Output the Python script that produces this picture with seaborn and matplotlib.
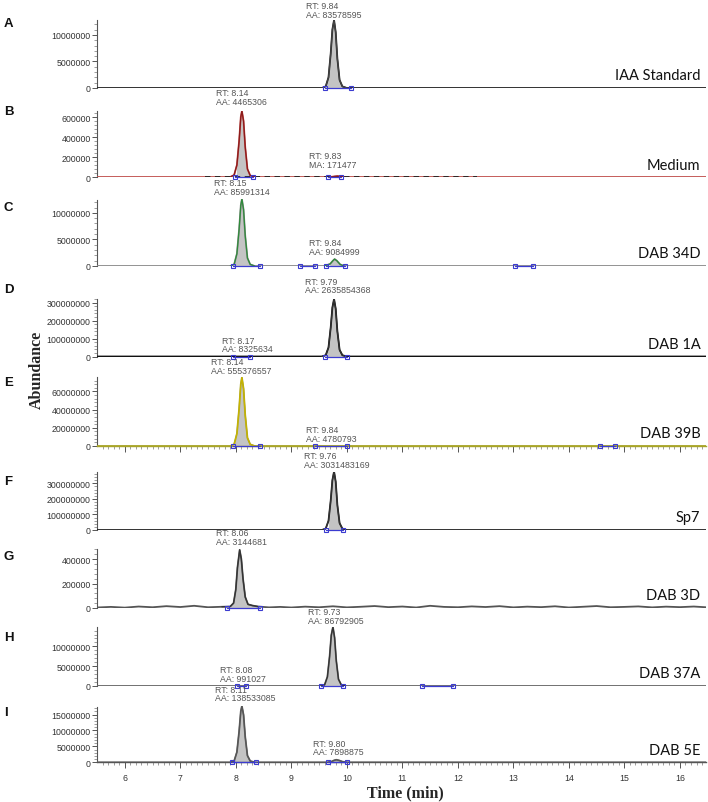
import matplotlib
matplotlib.use("Agg")
import matplotlib.pyplot as plt
import numpy as np
import seaborn as sns

sns.set_theme(style="white")
plt.rcParams["font.family"] = ["Liberation Sans", "DejaVu Sans"]

# ---- data (time in min, abundance in counts) ----
letters = ["A", "B", "C", "D", "E", "F", "G", "H", "I"]
samples = ["IAA Standard", "Medium", "DAB 34D", "DAB 1A", "DAB 39B",
           "Sp7", "DAB 3D", "DAB 37A", "DAB 5E"]

A_t = [5.5, 9.55, 9.62, 9.67, 9.71, 9.74, 9.77, 9.80, 9.83, 9.87, 9.92, 10.0, 16.47]
A_v = [0, 0, 3e5, 2.0e6, 6.5e6, 11.0e6, 12.8e6, 10.5e6, 5.5e6, 1.5e6, 3e5, 0, 0]

B_t = [5.5, 7.9, 7.97, 8.02, 8.06, 8.09, 8.11, 8.14, 8.17, 8.21, 8.26, 8.34,
       9.7, 9.78, 9.83, 9.88, 9.95, 16.47]
B_v = [0, 0, 2e4, 1.2e5, 3.6e5, 6.0e5, 6.6e5, 5.6e5, 3.0e5, 8e4, 1.5e4, 0,
       0, 6e3, 9e3, 6e3, 0, 0]
B_noise_t = [7.45, 12.35]
B_noise_v = [4e3, 4e3]

C_t = [5.5, 7.9, 7.97, 8.02, 8.06, 8.09, 8.11, 8.14, 8.17, 8.21, 8.26, 8.34,
       9.6, 9.7, 9.75, 9.78, 9.82, 9.88, 9.95, 16.47]
C_v = [0, 0, 3e5, 2.3e6, 6.9e6, 11.4e6, 12.6e6, 10.6e6, 5.7e6, 1.5e6, 3e5, 0,
       0, 4e5, 1.0e6, 1.3e6, 1.0e6, 3e5, 0, 0]

D_t = [5.5, 9.55, 9.62, 9.67, 9.71, 9.74, 9.77, 9.80, 9.83, 9.87, 9.92, 10.0, 16.47]
D_v = [0, 0, 7e6, 5.0e7, 1.62e8, 2.72e8, 3.2e8, 2.65e8, 1.4e8, 3.7e7, 7e6, 0, 0]

E_t = [5.5, 7.9, 7.97, 8.02, 8.06, 8.09, 8.11, 8.14, 8.17, 8.21, 8.26, 8.34, 16.47]
E_v = [0, 0, 1.8e6, 1.35e7, 4.1e7, 6.8e7, 7.54e7, 6.3e7, 3.4e7, 9e6, 1.8e6, 0, 0]

F_t = [5.5, 9.55, 9.62, 9.67, 9.71, 9.74, 9.77, 9.80, 9.83, 9.87, 9.92, 10.0, 16.47]
F_v = [0, 0, 9e6, 5.9e7, 1.9e8, 3.2e8, 3.76e8, 3.1e8, 1.6e8, 4.4e7, 9e6, 0, 0]

G_t = [5.5, 5.75, 6.0, 6.25, 6.5, 6.75, 7.0, 7.25, 7.5, 7.75,
       7.9, 7.96, 8.0, 8.03, 8.07, 8.1, 8.13, 8.17, 8.22, 8.3,
       8.4, 8.6, 8.8, 9.0, 9.25, 9.5, 9.75, 10.0, 10.25, 10.5,
       10.75, 11.0, 11.25, 11.5, 11.75, 12.0, 12.25, 12.5, 12.75, 13.0,
       13.25, 13.5, 13.75, 14.0, 14.25, 14.5, 14.75, 15.0, 15.25, 15.5,
       15.75, 16.0, 16.25, 16.47]
G_v = [4e3, 9e3, 3e3, 12e3, 6e3, 15e3, 8e3, 18e3, 6e3, 10e3,
       12e3, 40e3, 150e3, 330e3, 475e3, 400e3, 240e3, 90e3, 30e3, 20e3,
       12e3, 5e3, 9e3, 4e3, 11e3, 6e3, 14e3, 5e3, 10e3, 16e3,
       7e3, 12e3, 4e3, 18e3, 9e3, 6e3, 13e3, 8e3, 15e3, 5e3,
       11e3, 7e3, 14e3, 4e3, 10e3, 16e3, 6e3, 9e3, 13e3, 5e3,
       11e3, 7e3, 12e3, 6e3]

H_t = [5.5, 9.53, 9.6, 9.65, 9.69, 9.72, 9.75, 9.78, 9.81, 9.85, 9.9, 9.98, 16.47]
H_v = [0, 0, 3e5, 2.3e6, 7.5e6, 12.8e6, 14.9e6, 12.2e6, 6.4e6, 1.7e6, 3e5, 0, 0]

I_t = [5.5, 7.9, 7.97, 8.02, 8.06, 8.09, 8.11, 8.14, 8.17, 8.21, 8.26, 8.34,
       9.66, 9.72, 9.77, 9.81, 9.86, 9.92, 10.0, 16.47]
I_v = [0, 0, 4e5, 3.2e6, 9.7e6, 16.0e6, 17.7e6, 14.9e6, 8.0e6, 2.1e6, 4e5, 0,
       0, 2e5, 6e5, 8e5, 6e5, 2e5, 0, 0]

traces_t = [A_t, B_t, C_t, D_t, E_t, F_t, G_t, H_t, I_t]
traces_v = [A_v, B_v, C_v, D_v, E_v, F_v, G_v, H_v, I_v]

# integration windows (blue markers)
windows = [
    [(9.6, 10.08)],
    [(7.98, 8.31), (9.66, 9.9)],
    [(7.95, 8.43), (9.15, 9.42), (9.63, 9.96), (13.03, 13.35)],
    [(7.95, 8.26), (9.6, 10.0)],
    [(7.95, 8.43), (9.42, 10.0), (14.56, 14.83)],
    [(9.63, 9.93)],
    [(7.85, 8.43)],
    [(8.02, 8.19), (9.54, 9.93), (11.35, 11.92)],
    [(7.93, 8.37), (9.66, 10.0)],
]

# peak labels: (RT, AA label, left x of text, px above baseline)
peak_labels = [
    [("RT: 9.84", "AA: 83578595", 9.26, 69)],
    [("RT: 8.14", "AA: 4465306", 7.65, 71), ("RT: 9.83", "MA: 171477", 9.32, 8)],
    [("RT: 8.15", "AA: 85991314", 7.6, 70), ("RT: 9.84", "AA: 9084999", 9.32, 10)],
    [("RT: 9.79", "AA: 2635854368", 9.25, 62), ("RT: 8.17", "AA: 8325634", 7.76, 3)],
    [("RT: 8.14", "AA: 555376557", 7.55, 71), ("RT: 9.84", "AA: 4780793", 9.27, 3)],
    [("RT: 9.76", "AA: 3031483169", 9.22, 61)],
    [("RT: 8.06", "AA: 3144681", 7.65, 62)],
    [("RT: 9.73", "AA: 86792905", 9.3, 61), ("RT: 8.08", "AA: 991027", 7.71, 3)],
    [("RT: 8.11", "AA: 138533085", 7.62, 60), ("RT: 9.80", "AA: 7898875", 9.39, 6)],
]

yticks = [
    [0, 5e6, 1e7], [0, 2e5, 4e5, 6e5], [0, 5e6, 1e7], [0, 1e8, 2e8, 3e8],
    [0, 2e7, 4e7, 6e7], [0, 1e8, 2e8, 3e8], [0, 2e5, 4e5], [0, 5e6, 1e7],
    [0, 5e6, 1e7, 1.5e7],
]
# top of the drawn y axis and minor tick step
ytop = [12.76e6, 6.6e5, 12.5e6, 3.2e8, 7.59e7, 3.76e8, 4.82e5, 14.9e6, 17.4e6]
yminor = [1e6, 4e4, 1e6, 2e7, 4e6, 2e7, 4e4, 1e6, 1e6]

# ---- styling / layout ----
base_col = ["#222222", "#c0504d", "#8a8a8a", "#111111", "#a8a428",
            "#222222", "#555555", "#666666", "#666666"]
peak_col = ["#444444", "#8b1a1a", "#2e8b3a", "#333333", "#c8b400",
            "#333333", "#333333", "#333333", "#555555"]
# (top, bottom) of each panel in pixels
panel_px = [(21, 89), (112, 178), (200, 267), (300, 357.5), (378, 447),
            (472.5, 531), (550, 609), (628, 687), (707, 763.3)]
letter_y = [24, 112, 208, 290, 383, 482, 557, 638, 713]

W, H = 708, 803
fig = plt.figure(figsize=(W / 100, H / 100), dpi=100)
x0, x1 = 97, 706
blue = "#3b3bd0"

for i in range(9):
    top, bot = panel_px[i]
    ax = fig.add_axes([x0 / W, 1 - bot / H, (x1 - x0) / W, (bot - top) / H])
    t = np.array(traces_t[i])
    v = np.array(traces_v[i])

    # grey fill under integrated peaks
    mask = np.zeros(len(t), bool)
    for a, b in windows[i]:
        mask |= (t >= a) & (t <= b)
    ax.fill_between(t, 0, v, where=mask, color="#c4c4c4", lw=0, zorder=1)

    sns.lineplot(x=t, y=v, ax=ax, color=base_col[i], linewidth=1.3,
                 sort=False, legend=False, zorder=3)
    if i == 1:
        ax.plot(B_noise_t, B_noise_v, color="#222222", lw=1.3,
                dashes=(3, 2.5), zorder=3)
    # peak outline colour
    for a, b in windows[i]:
        sel = (t >= a - 0.1) & (t <= b + 0.1)
        if sel.sum() > 2:
            ax.plot(t[sel], v[sel], color=peak_col[i], lw=0.9, zorder=4)

    # integration markers
    for a, b in windows[i]:
        ax.plot([a, b], [0, 0], color=blue, lw=0.9, zorder=5,
                marker="s", markersize=3, markerfacecolor="none",
                markeredgecolor=blue, markeredgewidth=0.8, clip_on=False)

    ax.set_xlim(5.5, 16.47)
    ax.set_ylim(0, max(max(v), ytop[i]))
    ax.set_facecolor("none")
    for s in ["top", "right"]:
        ax.spines[s].set_visible(False)
    ax.spines["left"].set_bounds(0, ytop[i])
    ax.spines["left"].set_color("#555555")
    ax.spines["left"].set_linewidth(0.8)

    ax.set_yticks(yticks[i])
    ax.set_yticklabels([f"{int(y)}" for y in yticks[i]])
    ax.set_yticks(np.arange(0, ytop[i] + 1, yminor[i]), minor=True)
    ax.tick_params(axis="y", which="major", length=3.5, width=0.7,
                   color="#555555", labelsize=6.3, labelcolor="#333333", pad=1,
                   left=True, direction="out")
    ax.tick_params(axis="y", which="minor", length=2, width=0.5,
                   color="#777777", left=True, direction="out")

    if i in (4, 8):
        ax.spines["bottom"].set_color(base_col[i] if i == 4 else "#555555")
        ax.spines["bottom"].set_linewidth(1.0)
        ax.set_xticks(range(6, 17))
        ax.set_xticks(np.arange(5.6, 16.47, 0.1), minor=True)
        ax.tick_params(axis="x", which="major", length=4, width=0.7,
                       color="#555555", labelsize=6.3, labelcolor="#333333",
                       bottom=True, direction="out", pad=4)
        ax.tick_params(axis="x", which="minor", length=2, width=0.5,
                       color="#777777", bottom=True, direction="out")
        if i == 4:
            ax.set_xticklabels([])
    else:
        ax.spines["bottom"].set_visible(False)
        ax.set_xticks([])

    ax.set_xlabel("")
    ax.set_ylabel("")

    # sample name at right
    ax.annotate(samples[i], xy=(1, 0), xycoords="axes fraction",
                xytext=(-4, 5.5 * 0.72), textcoords="offset points",
                ha="right", va="bottom", fontsize=10.5, color="#111111",
                family=["Lato", "DejaVu Sans"])

    # peak annotations
    for rt, aa, xl, dy in peak_labels[i]:
        ax.annotate(f"{rt}\n{aa}", xy=(xl, 0),
                    xycoords=("data", "axes fraction"),
                    xytext=(0, dy * 0.72), textcoords="offset points",
                    ha="left", va="bottom", fontsize=6.3, color="#555555",
                    linespacing=0.95, annotation_clip=False)

    fig.text(4 / W, 1 - letter_y[i] / H, letters[i], ha="left", va="center",
             fontsize=9.5, fontweight="bold", color="#111111")

fig.text(37 / W, 1 - 370 / H, "Abundance", rotation=90, ha="center",
         va="center", fontsize=11.5, fontweight="bold",
         family=["Liberation Serif", "DejaVu Serif"])
fig.text(405 / W, 1 - 793 / H, "Time (min)", ha="center", va="center",
         fontsize=11.5, fontweight="bold",
         family=["Liberation Serif", "DejaVu Serif"])

fig.savefig("out.png", dpi=100)
